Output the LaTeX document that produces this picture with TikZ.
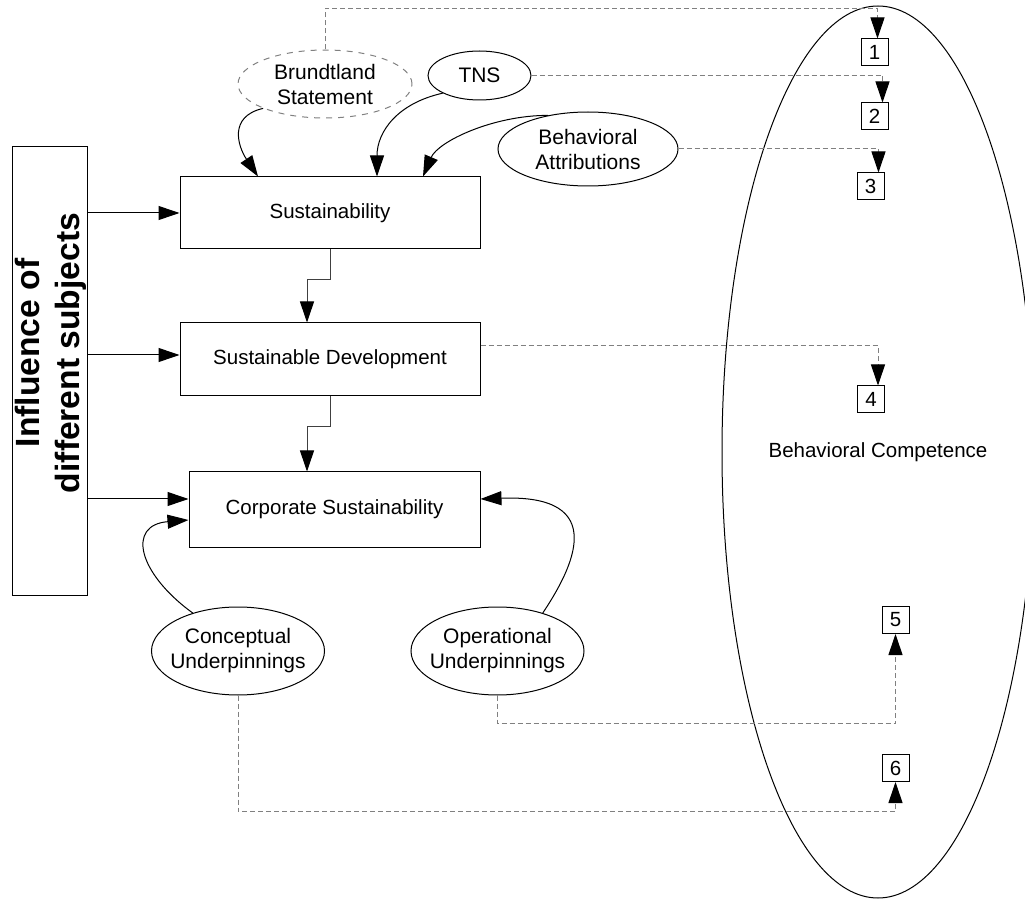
\documentclass[tikz,border=0pt]{standalone}
\usepackage{fontspec}
\setmainfont{Liberation Sans}
\usetikzlibrary{arrows.meta,shapes.geometric}

\begin{document}
\begin{tikzpicture}[x=0.5pt,y=-0.5pt,line width=0.5pt,
  font=\fontsize{10.25}{12.5}\selectfont,
  box/.style={draw,inner sep=0pt,minimum width=150pt,minimum height=36pt},
  oval/.style={draw,ellipse,inner sep=-4pt,align=center,font=\fontsize{10.5}{12.5}\selectfont},
  num/.style={draw,inner sep=0pt,minimum size=13.5pt},
  arr/.style={-{Triangle[length=10.5pt,width=7pt,color=black]}},
  link/.style={arr,gray,dash pattern=on 2.5pt off 1.5pt}]
\useasboundingbox (0,0) rectangle (1025,899);

\node[draw,ellipse,inner sep=0pt,minimum width=156pt,minimum height=446pt] (bc) at (878,452) {Behavioral Competence};

\node[draw,minimum width=37.5pt,minimum height=224pt] (infl) at (49.5,371) {};
\node[rotate=90,align=center,font=\bfseries\fontsize{16.8}{20}\selectfont] (infltxt) at (51,353) {Influence of\\different subjects};

\node[box] (sus) at (330,213) {Sustainability};
\node[box,minimum height=36.5pt] (sd) at (330,359.5) {Sustainable Development};
\node[box,minimum width=145.5pt,minimum height=37.5pt] (cs) at (334.5,509.5) {Corporate Sustainability};

\node[oval,draw=gray,dashed,minimum width=87pt,minimum height=34pt] (bs) at (325,84) {Brundtland\\Statement};
\node[oval,minimum width=51.5pt,minimum height=24.5pt] (tns) at (479.5,75.5) {TNS};
\node[oval,minimum width=90pt,minimum height=37pt] (ba) at (588,149) {Behavioral\\Attributions};
\node[oval,minimum width=86.5pt,minimum height=44pt] (cu) at (238,651) {Conceptual\\Underpinnings};
\node[oval,minimum width=86.5pt,minimum height=44pt] (ou) at (497.5,651) {Operational\\Underpinnings};

\node[num] (n1) at (874.5,52.5) {1};
\node[num] (n2) at (874.5,116.5) {2};
\node[num] (n3) at (870.5,186.5) {3};
\node[num] (n4) at (871,399.5) {4};
\node[num] (n5) at (895.5,620) {5};
\node[num] (n6) at (895.5,768) {6};

\draw[arr] (sus.west -| infl.east) -- (sus.west);
\draw[arr] ([yshift=2.25pt]sd.west -| infl.east) -- ([yshift=2.25pt]sd.west);
\draw[arr] ([yshift=5.25pt]cs.west -| infl.east) -- ([yshift=5.25pt]cs.west);

\draw[arr,darkgray] (sus.south) -- ++(0,30) -| ([xshift=-11.5pt]sd.north);
\draw[arr,darkgray] (sd.south) -- ++(0,30) -| ([xshift=-13.75pt]cs.north);

\draw[arr] (bs.south west) .. controls +(-35,8) and +(-20,-30) .. ([xshift=-36pt]sus.north);
\draw[arr] (tns.south west) .. controls +(-45,10) and +(0,-45) .. ([xshift=23.5pt]sus.north);
\draw[arr] (ba.140) .. controls +(-55,0) and +(15,-35) .. ([xshift=46.5pt]sus.north);
\draw[arr] (cu.140) .. controls +(-55,-40) and +(-62,5) .. ([yshift=-5.25pt]cs.west);
\draw[arr] (ou.40) .. controls +(30,-45) and +(130,-5) .. ([yshift=5.25pt]cs.east);

% dashed links to the numbered items
\draw[link] (bs.north) -- ++(0,-41) -| ([xshift=1.5pt]n1.north);
\draw[link] (tns.east) -| ([xshift=4pt]n2.north);
\draw[link] (ba.east) -| ([xshift=4pt]n3.north);
\draw[link] ([yshift=6.75pt]sd.east) -| ([xshift=3.5pt]n4.north);
\draw[link] (ou.south) -- ++(0,28) -| (n5.south);
\draw[link] (cu.south) -- ++(0,116) -| (n6.south);

\end{tikzpicture}
\end{document}
